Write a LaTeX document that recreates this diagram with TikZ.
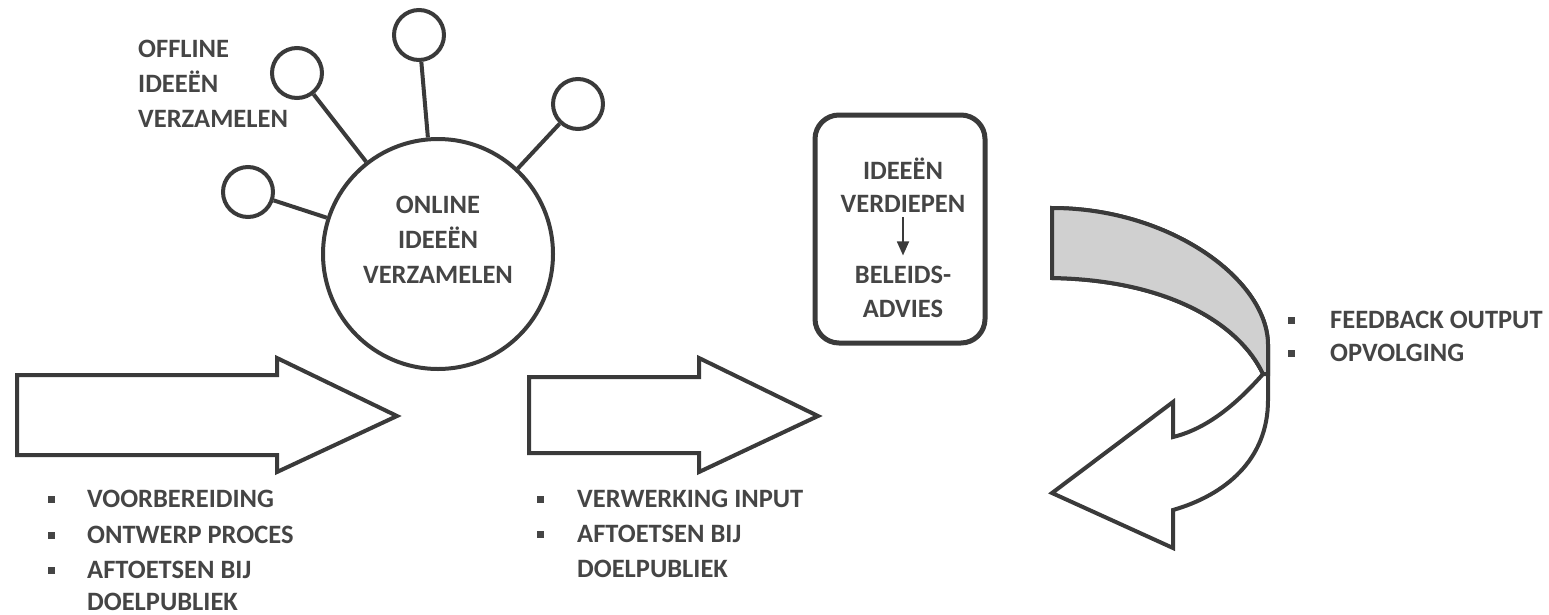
\documentclass[tikz,border=0pt]{standalone}
\usepackage{fontspec}
\setmainfont{Carlito}
\usetikzlibrary{arrows.meta}
\definecolor{ln}{HTML}{3A3A3A}
\definecolor{tx}{HTML}{454545}
\definecolor{band}{HTML}{D0D0D0}
\newcommand\bulsq[1]{\makebox[#1][l]{\raisebox{4.5pt}{\rule{7pt}{7pt}}}}
\begin{document}
\begin{tikzpicture}[x=1pt,y=-1pt,
  shapeline/.style={draw=ln, line width=4pt, fill=white},
  bubble/.style={circle, draw=ln, line width=4pt, fill=white, inner sep=0pt},
  lbl/.style={text=tx, font=\fontsize{26.5}{30}\selectfont\bfseries, inner sep=0pt},
  link/.style={draw=ln, line width=4pt},
  boxarrow/.style={draw=ln, fill=ln, line width=1.8pt, -{Triangle[length=14pt,width=12pt]}}]
\useasboundingbox (0,0) rectangle (1549,614);

% block arrows
\path[shapeline] (17,375) -- (277,375) -- (277,358) -- (397,416) -- (277,472) -- (277,455) -- (17,455) -- cycle;
\path[shapeline] (529,377) -- (699,377) -- (699,358) -- (818,416) -- (699,472) -- (699,453) -- (529,453) -- cycle;

% circles
\node[bubble, minimum size=230pt] (online) at (438,254) {};
\node[bubble, minimum size=50pt] (stop) at (419,35) {};
\node[bubble, minimum size=50pt] (sul) at (297,73) {};
\node[bubble, minimum size=50pt] (sl) at (248,192) {};
\node[bubble, minimum size=50pt] (sr) at (578,104) {};
\draw[link] (stop) -- (online);
\draw[link] (sul) -- (online);
\draw[link] (sl) -- (online);
\draw[link] (sr) -- (online);

\node[lbl, anchor=base] (on1) at (438,213) {ONLINE};
\node[lbl, anchor=base] (on2) at (438,248) {IDEEËN};
\node[lbl, anchor=base] (on3) at (438,283) {VERZAMELEN};

\node[lbl, anchor=base west] (off1) at (138,57) {OFFLINE};
\node[lbl, anchor=base west] (off2) at (138,92) {IDEEËN};
\node[lbl, anchor=base west] (off3) at (138,127) {VERZAMELEN};

% rounded box
\node[draw=ln, line width=5pt, rounded corners=24pt, minimum width=170pt, minimum height=228pt, inner sep=0pt] (box) at (900,229) {};
\node[lbl, anchor=base] (ide) at (903,179) {IDEEËN};
\node[lbl, anchor=base] (verd) at (903,212) {VERDIEPEN};
\node[lbl, anchor=base] (bel) at (903,283) {BELEIDS-};
\node[lbl, anchor=base] (adv) at (903,317) {ADVIES};
\draw[boxarrow, shorten <=5pt, shorten >=10pt] (verd.south) -- (bel.north);

% curved arrow
\path[shapeline] (1052,208) .. controls (1170,208) and (1268,280) .. (1268,345) -- (1268,400)
  .. controls (1268,460) and (1225,495) .. (1173,510) -- (1173,548) -- (1052,493) -- (1173,402) -- (1173,437)
  .. controls (1210,428) and (1240,400) .. (1263,374)
  .. controls (1240,325) and (1170,280) .. (1052,278) -- cycle;
\path[shapeline, fill=band] (1052,208) .. controls (1170,208) and (1268,280) .. (1268,345) -- (1268,374) -- (1263,374)
  .. controls (1240,325) and (1170,280) .. (1052,278) -- cycle;

% lists
\node[lbl, anchor=base west] (l1a) at (47.5,507) {\bulsq{39.5pt}VOORBEREIDING};
\node[lbl, anchor=base west] (l1b) at (47.5,543) {\bulsq{39.5pt}ONTWERP PROCES};
\node[lbl, anchor=base west] (l1c) at (47.5,578) {\bulsq{39.5pt}AFTOETSEN BIJ};
\node[lbl, anchor=base west] (l1d) at (87,610) {DOELPUBLIEK};

\node[lbl, anchor=base west] (l2a) at (536.5,507) {\bulsq{40.5pt}VERWERKING INPUT};
\node[lbl, anchor=base west] (l2b) at (536.5,542) {\bulsq{40.5pt}AFTOETSEN BIJ};
\node[lbl, anchor=base west] (l2c) at (577,577) {DOELPUBLIEK};

\node[lbl, anchor=base west] (l3a) at (1287.5,328) {\bulsq{42.5pt}FEEDBACK OUTPUT};
\node[lbl, anchor=base west] (l3b) at (1287.5,361) {\bulsq{42.5pt}OPVOLGING};
\end{tikzpicture}
\end{document}
